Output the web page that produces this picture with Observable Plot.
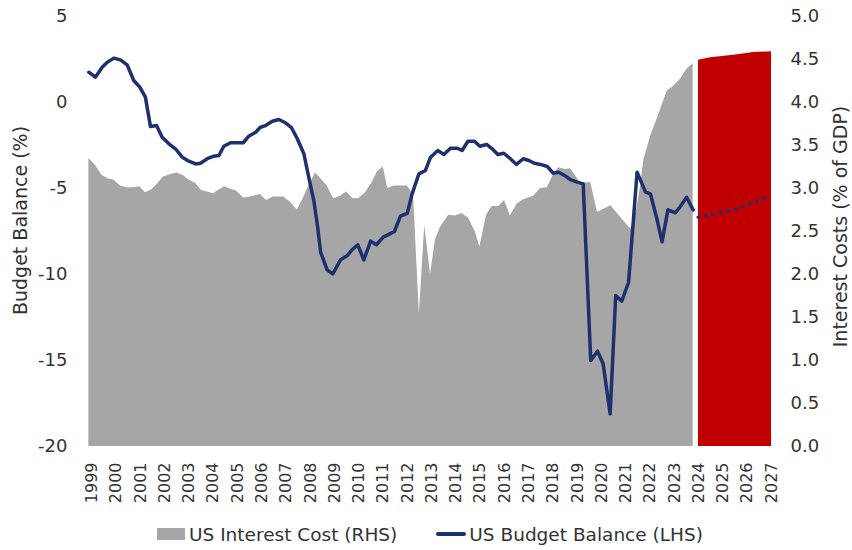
<!DOCTYPE html>
<html>
<head>
<meta charset="utf-8">
<script src="https://cdn.jsdelivr.net/npm/d3@7"></script>
<script src="https://cdn.jsdelivr.net/npm/@observablehq/plot@0.6"></script>
<style>
  body { margin: 0; background: #fff; font-family: "DejaVu Sans", sans-serif; }
  #legend { display: flex; align-items: center; height: 32px; padding-left: 157px; font-size: 18.5px; color: #333; white-space: nowrap; }
  .sw-area { width: 28px; height: 12px; background: #a6a6a6; margin-right: 4px; }
  .sw-line { width: 30px; height: 4px; background: #1f306e; border-radius: 2px; margin-left: 39px; margin-right: 3px; }
</style>
</head>
<body>
<div id="chart"></div>
<div id="legend">
  <span class="sw-area"></span><span>US Interest Cost (RHS)</span>
  <span class="sw-line"></span><span>US Budget Balance (LHS)</span>
</div>
<script>
// ---- Data ----
const yearTicks = [1999,2000,2001,2002,2003,2004,2005,2006,2007,2008,2009,2010,2011,2012,2013,2014,2015,2016,2017,2018,2019,2020,2021,2022,2023,2024,2025,2026,2027];
const budgetTicks = [-20,-15,-10,-5,0,5];
const interestTicks = [0,0.5,1,1.5,2,2.5,3,3.5,4,4.5,5];

// US Budget Balance (% , LHS), quarterly
const budgetDate = [1998.87,1999.14,1999.42,1999.63,1999.90,2000.17,2000.45,2000.72,2000.97,2001.20,
  2001.41,2001.66,2001.89,2002.17,2002.44,2002.72,2002.99,2003.27,2003.47,2003.75,
  2004.02,2004.23,2004.43,2004.71,2004.98,2005.23,2005.46,2005.74,2005.94,2006.15,
  2006.43,2006.70,2006.97,2007.21,2007.46,2007.73,2007.93,2008.14,2008.30,2008.42,
  2008.69,2008.92,2009.24,2009.52,2009.72,2009.95,2010.20,2010.48,2010.72,2011.00,
  2011.23,2011.46,2011.71,2011.99,2012.19,2012.47,2012.74,2012.95,2013.25,2013.50,
  2013.77,2014.05,2014.25,2014.49,2014.76,2014.98,2015.26,2015.49,2015.72,2015.97,
  2016.24,2016.49,2016.77,2017.00,2017.23,2017.48,2017.76,2018.00,2018.23,2018.47,
  2018.72,2018.99,2019.24,2019.55,2019.83,2020.06,2020.35,2020.58,2020.83,2021.11,
  2021.46,2021.81,2022.01,2022.26,2022.49,2022.73,2023.04,2023.25,2023.50,2023.77];
const budgetValue = [1.76,1.47,2.05,2.34,2.58,2.48,2.19,1.28,0.89,0.31,
  -1.40,-1.34,-2.02,-2.40,-2.69,-3.18,-3.41,-3.57,-3.53,-3.27,
  -3.12,-3.08,-2.54,-2.34,-2.34,-2.34,-1.96,-1.73,-1.44,-1.34,
  -1.09,-0.99,-1.18,-1.44,-2.11,-2.98,-4.34,-5.70,-7.25,-8.70,
  -9.73,-9.96,-9.15,-8.90,-8.56,-8.27,-9.15,-8.06,-8.27,-7.83,
  -7.67,-7.50,-6.61,-6.44,-5.31,-4.15,-3.95,-3.18,-2.79,-3.02,
  -2.66,-2.66,-2.79,-2.25,-2.25,-2.54,-2.44,-2.69,-3.02,-2.95,
  -3.27,-3.60,-3.27,-3.37,-3.53,-3.60,-3.72,-4.11,-4.05,-4.24,
  -4.49,-4.63,-4.73,-15.0,-14.46,-15.19,-18.1,-11.22,-11.55,-10.45,
  -4.05,-5.21,-5.31,-6.67,-8.1,-6.24,-6.41,-6.03,-5.51,-6.24];

// Budget balance projection (dotted)
const budgetFcDate = [2023.98,2024.35,2024.97,2025.59,2026.20,2026.82,2026.96];
const budgetFcValue = [-6.67,-6.57,-6.38,-6.18,-5.83,-5.51,-5.45];

// US Interest Cost (% of GDP, RHS)
const interestDate = [1998.87,1999.14,1999.42,1999.69,1999.90,2000.17,2000.45,2000.72,2000.97,2001.20,
  2001.44,2001.69,2001.93,2002.21,2002.51,2002.76,2002.99,2003.27,2003.50,2003.75,
  2004.00,2004.23,2004.46,2004.71,2004.95,2005.25,2005.53,2005.94,2006.19,2006.47,
  2006.90,2007.18,2007.46,2007.70,2007.93,2008.21,2008.44,2008.69,2008.96,2009.24,
  2009.49,2009.76,2009.99,2010.27,2010.55,2010.75,2011.00,2011.19,2011.44,2011.71,
  2011.99,2012.12,2012.26,2012.49,2012.71,2012.95,2013.15,2013.36,2013.70,2013.98,
  2014.25,2014.53,2014.80,2014.98,2015.26,2015.49,2015.76,2016.00,2016.24,2016.52,
  2016.79,2017.20,2017.48,2017.76,2018.00,2018.23,2018.51,2018.72,2018.92,2019.13,
  2019.55,2019.83,2020.38,2020.65,2021.13,2021.22,2021.44,2021.60,2021.74,2022.01,
  2022.29,2022.70,2022.97,2023.27,2023.52,2023.77];
const interestValue = [3.35,3.27,3.15,3.11,3.10,3.03,3.01,3.01,3.02,2.95,
  2.98,3.05,3.13,3.16,3.18,3.15,3.10,3.06,2.98,2.96,
  2.94,2.98,3.02,2.99,2.97,2.89,2.90,2.93,2.86,2.90,
  2.90,2.84,2.75,2.88,3.03,3.18,3.11,3.03,2.88,2.91,
  2.96,2.88,2.88,2.95,3.07,3.19,3.25,3.00,3.03,3.03,
  3.03,2.98,2.86,1.54,2.57,2.00,2.40,2.55,2.69,2.68,
  2.71,2.65,2.49,2.32,2.69,2.79,2.79,2.86,2.68,2.82,
  2.87,2.91,3.00,3.01,3.15,3.24,3.22,3.23,3.15,3.06,
  3.07,2.72,2.80,2.71,2.55,2.53,2.75,3.02,3.33,3.60,
  3.81,4.13,4.19,4.28,4.39,4.45];

// Interest cost projection (red)
const interestFcDate = [2023.99,2024.48,2025.44,2026.27,2027.00];
const interestFcValue = [4.49,4.52,4.55,4.58,4.59];

// ---- Build tables ----
const zip = (ts, vs) => ts.map((t, i) => ({t, v: vs[i]}));
const budget = zip(budgetDate, budgetValue);
const budgetFc = zip(budgetFcDate, budgetFcValue);
const interest = zip(interestDate, interestValue);
const interestFc = zip(interestFcDate, interestFcValue);

// map RHS (0..5) onto LHS (-20..5)
const rhs = r => r * 5 - 20;

const navy = "#1f306e";
const chart = Plot.plot({
  width: 852,
  height: 518,
  marginLeft: 88,
  marginRight: 80,
  marginTop: 16,
  marginBottom: 72,
  style: {fontFamily: "DejaVu Sans, sans-serif", color: "#333", background: "white"},
  x: {domain: [1998.856, 2027.04]},
  y: {domain: [-20, 5]},
  marks: [
    Plot.areaY(interest, {x: "t", y1: -20, y2: d => rhs(d.v), fill: "#a6a6a6"}),
    Plot.areaY(interestFc, {x: "t", y1: -20, y2: d => rhs(d.v), fill: "#c00000"}),
    Plot.line(budget, {x: "t", y: "v", stroke: navy, strokeWidth: 3.5, strokeLinejoin: "round"}),
    Plot.line(budgetFc, {x: "t", y: "v", stroke: navy, strokeWidth: 3.6, strokeDasharray: "0.1 7.5", strokeLinecap: "round"}),
    Plot.axisX({ticks: yearTicks, tickFormat: d => String(d), tickRotate: -90, tickSize: 0, tickPadding: 16, fontSize: 16, label: null}),
    Plot.axisY({anchor: "left", ticks: budgetTicks, tickFormat: d => String(d), tickSize: 0, tickPadding: 21, fontSize: 18, label: null}),
    Plot.axisY({anchor: "right", ticks: interestTicks.map(rhs), tickFormat: d => ((d + 20) / 5).toFixed(1), tickSize: 0, tickPadding: 18, fontSize: 18, label: null}),
    Plot.text(["Budget Balance (%)"], {text: d => d, frameAnchor: "left", textAnchor: "middle", rotate: -90, lineAnchor: "top", dx: -75, dy: -11, fontSize: 19, fill: "#333"}),
    Plot.text(["Interest Costs (% of GDP)"], {text: d => d, frameAnchor: "right", textAnchor: "middle", rotate: -90, lineAnchor: "top", dx: 61, dy: -5, fontSize: 19, fill: "#333"})
  ]
});
document.getElementById("chart").appendChild(chart);
</script>
</body>
</html>
